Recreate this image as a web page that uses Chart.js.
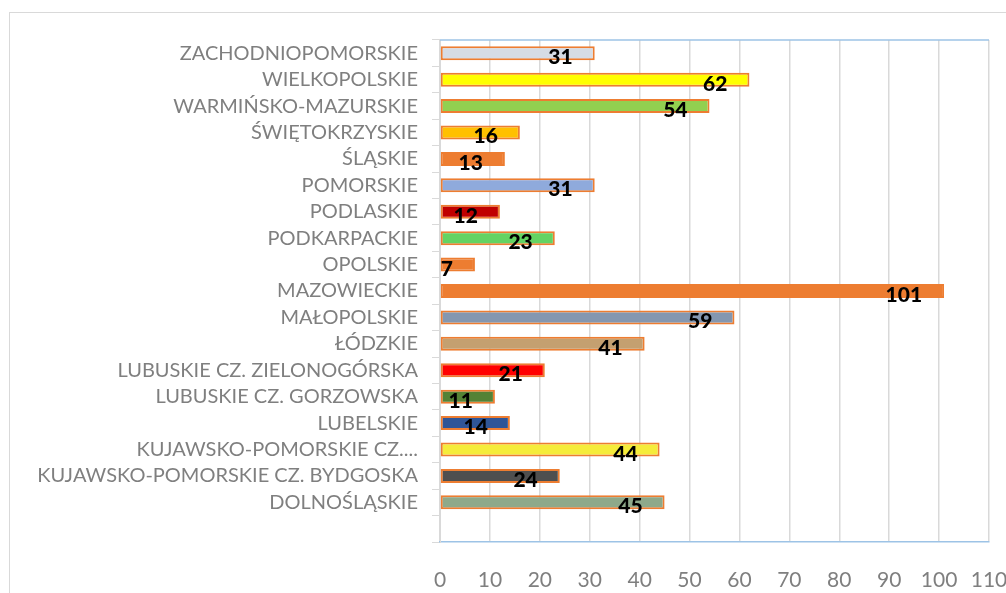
<!DOCTYPE html>
<html>
<head>
<meta charset="utf-8">
<script src="https://cdn.jsdelivr.net/npm/chart.js@4"></script>
<style>
  html, body { margin: 0; padding: 0; background: #fff; }
  #wrap { position: relative; width: 1006px; height: 593px; }
</style>
</head>
<body>
<div id="wrap"><canvas id="chart" width="1006" height="593"></canvas></div>
<script>
// ── DATA (bottom to top, as in the sheet; first row is empty) ──
const regions = [
    '',
    'DOLNOŚLĄSKIE',
    'KUJAWSKO-POMORSKIE CZ. BYDGOSKA',
    'KUJAWSKO-POMORSKIE CZ....',
    'LUBELSKIE',
    'LUBUSKIE CZ. GORZOWSKA',
    'LUBUSKIE CZ. ZIELONOGÓRSKA',
    'ŁÓDZKIE',
    'MAŁOPOLSKIE',
    'MAZOWIECKIE',
    'OPOLSKIE',
    'PODKARPACKIE',
    'PODLASKIE',
    'POMORSKIE',
    'ŚLĄSKIE',
    'ŚWIĘTOKRZYSKIE',
    'WARMIŃSKO-MAZURSKIE',
    'WIELKOPOLSKIE',
    'ZACHODNIOPOMORSKIE',
];
const counts = [null, 45, 24, 44, 14, 11, 21, 41, 59, 101, 7, 23, 12, 31, 13, 16, 54, 62, 31];
const barColors = [
    '#ffffff',
    '#8ea98a', '#4f4f4f', '#f5ec3a', '#2f5597', '#548235', '#ff0000',
    '#c4a070', '#8497b0', '#ed7d31', '#ed7d31', '#63d363', '#c00000',
    '#8faadc', '#ed7d31', '#ffc000', '#92d050', '#ffff00', '#d6dce5',
];
const xTicks = [0, 10, 20, 30, 40, 50, 60, 70, 80, 90, 100, 110];

const GRID = '#d9d9d9';
const AXIS_BLUE = '#9dc3e6';

// ── FRAME + TOP LINE ──
const framePlugin = {
    id: 'frame',
    beforeDraw(chart) {
        const ctx = chart.ctx;
        ctx.save();
        ctx.strokeStyle = '#d9d9d9';
        ctx.lineWidth = 1;
        ctx.strokeRect(9.5, 12.5, 1010, 600);
        ctx.restore();
    },
    afterDatasetsDraw(chart) {
        const { ctx, chartArea } = chart;
        ctx.save();
        ctx.strokeStyle = AXIS_BLUE;
        ctx.lineWidth = 1.5;
        ctx.beginPath();
        ctx.moveTo(chartArea.left, chartArea.top);
        ctx.lineTo(chartArea.right, chartArea.top);
        ctx.stroke();
        ctx.restore();
    }
};

// ── VALUE LABELS (inside end) ──
const valueLabels = {
    id: 'valueLabels',
    afterDatasetsDraw(chart) {
        const ctx = chart.ctx;
        const meta = chart.getDatasetMeta(0);
        ctx.save();
        ctx.font = '900 21px Lato';
        ctx.fillStyle = '#000';
        ctx.textAlign = 'right';
        ctx.textBaseline = 'alphabetic';
        meta.data.forEach((bar, i) => {
            if (counts[i] == null) return;
            ctx.fillText(String(counts[i]), bar.x - 22, bar.y + 11);
        });
        ctx.restore();
    }
};

new Chart(document.getElementById('chart'), {
    type: 'bar',
    data: {
        labels: regions,
        datasets: [{
            data: counts,
            backgroundColor: barColors,
            borderColor: '#ed7d31',
            borderWidth: 2,
            borderSkipped: false,
            barPercentage: 0.53,
            categoryPercentage: 1,
        }]
    },
    options: {
        indexAxis: 'y',
        responsive: false,
        animation: false,
        devicePixelRatio: 1,
        layout: { padding: { top: 40, right: 17, left: 0, bottom: 0 } },
        plugins: {
            legend: { display: false },
            tooltip: { enabled: false }
        },
        scales: {
            x: {
                min: 0,
                max: 110,
                afterBuildTicks: s => { s.ticks = xTicks.map(v => ({ value: v })); },
                afterFit: s => { s.height = 51; s.paddingRight = 0; s.paddingLeft = 0; },
                grid: { color: GRID, lineWidth: 1.5, drawTicks: false },
                border: { color: AXIS_BLUE, width: 1.5 },
                ticks: { color: '#7f7f7f', font: { family: 'Lato', size: 21 }, padding: 26, maxRotation: 0 }
            },
            y: {
                reverse: true,
                afterFit: s => { s.width = 440; },
                grid: { color: GRID, drawOnChartArea: false, offset: true, tickLength: 8 },
                border: { color: GRID, width: 1 },
                ticks: { color: '#7f7f7f', font: { family: 'Lato', size: 20 }, padding: 14, autoSkip: false }
            }
        }
    },
    plugins: [framePlugin, valueLabels]
});
</script>
</body>
</html>
